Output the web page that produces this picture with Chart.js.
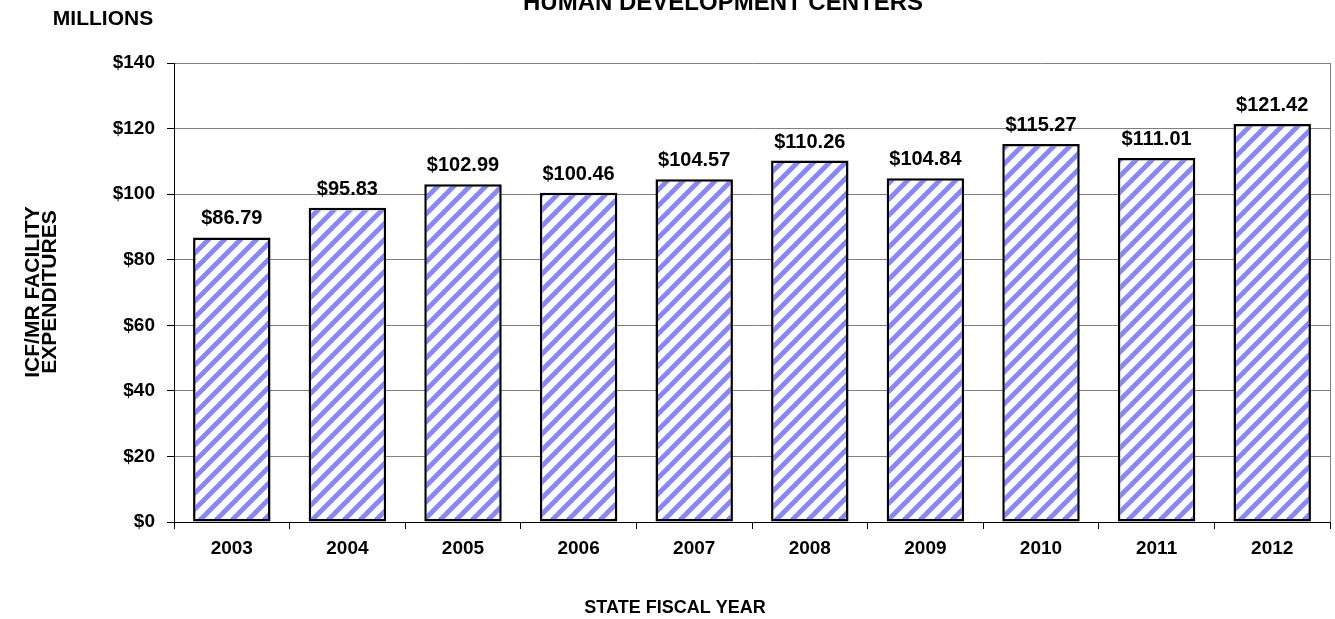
<!DOCTYPE html>
<html>
<head>
<meta charset="utf-8">
<title>ICF/MR Facility Expenditures</title>
<script src="https://cdn.jsdelivr.net/npm/chart.js@4.4.1/dist/chart.umd.min.js"></script>
<style>
  html, body { margin: 0; padding: 0; background: #fff; overflow: hidden; }
  canvas { display: block; }
</style>
</head>
<body>
<canvas id="chart" width="1335" height="619"></canvas>
<script>
// Fiscal years and spending, millions of dollars
const years = ["2003", "2004", "2005", "2006", "2007", "2008", "2009", "2010", "2011", "2012"];
const spending = [86.79, 95.83, 102.99, 100.46, 104.57, 110.26, 104.84, 115.27, 111.01, 121.42];
const yTicks = [0, 20, 40, 60, 80, 100, 120, 140];

const FONT = '"Liberation Sans", Arial, sans-serif';

// diagonal stripe fill for the bars
function makeStripes() {
  const size = 16;
  const c = document.createElement("canvas");
  c.width = size;
  c.height = size;
  const g = c.getContext("2d");
  g.fillStyle = "#fff";
  g.fillRect(0, 0, size, size);
  g.strokeStyle = "rgb(135,135,255)";
  g.lineWidth = 4.8;
  g.lineCap = "square";
  g.beginPath();
  g.moveTo(-2, size + 2); g.lineTo(size + 2, -2);
  g.moveTo(-2, 2); g.lineTo(2, -2);
  g.moveTo(size - 2, size + 2); g.lineTo(size + 2, size - 2);
  g.stroke();
  return g.createPattern(c, "repeat");
}

const extras = {
  id: "extras",
  afterDraw(chart) {
    const { ctx, chartArea } = chart;
    ctx.save();
    // right border of the plot box
    ctx.strokeStyle = "#808080";
    ctx.lineWidth = 1;
    ctx.beginPath();
    ctx.moveTo(chartArea.right + 0.5, chartArea.top);
    ctx.lineTo(chartArea.right + 0.5, chartArea.bottom);
    ctx.stroke();

    ctx.fillStyle = "#000";
    ctx.textAlign = "center";
    ctx.textBaseline = "alphabetic";

    // value labels above bars
    ctx.font = "bold 20px " + FONT;
    const meta = chart.getDatasetMeta(0);
    meta.data.forEach((bar, i) => {
      ctx.fillText("$" + spending[i].toFixed(2), bar.x, bar.y - 13);
    });

    ctx.font = "bold 24px " + FONT;
    ctx.fillText("HUMAN DEVELOPMENT CENTERS", 723, 10);

    ctx.font = "bold 21px " + FONT;
    ctx.fillText("MILLIONS", 103, 25);

    ctx.font = "bold 18px " + FONT;
    ctx.fillText("STATE FISCAL YEAR", 675, 613);

    ctx.font = "bold 21px " + FONT;
    ctx.translate(39, 292);
    ctx.rotate(-Math.PI / 2);
    ctx.fillText("ICF/MR FACILITY", 0, 0);
    ctx.fillText("EXPENDITURES", 0, 17);
    ctx.restore();
  }
};

new Chart(document.getElementById("chart"), {
  type: "bar",
  data: {
    labels: years,
    datasets: [{
      data: spending,
      backgroundColor: makeStripes(),
      borderColor: "#000",
      borderWidth: 2.5,
      borderSkipped: false,
      barPercentage: 0.67,
      categoryPercentage: 1
    }]
  },
  options: {
    responsive: false,
    animation: false,
    devicePixelRatio: 1,
    layout: { padding: { top: 63, right: 5, left: 0, bottom: 0 } },
    plugins: { legend: { display: false }, tooltip: { enabled: false } },
    scales: {
      x: {
        offset: true,
        grid: { drawOnChartArea: false, tickLength: 7, tickColor: "#000", offset: true },
        border: { color: "#000", width: 1 },
        ticks: { color: "#000", font: { family: FONT, size: 19, weight: "bold" }, padding: 8 },
        afterFit: s => { s.height = 97; }
      },
      y: {
        min: 0,
        max: 140,
        afterBuildTicks: s => { s.ticks = yTicks.map(v => ({ value: v })); },
        grid: { color: "#808080", tickLength: 7, tickColor: "#000" },
        border: { color: "#000", width: 1 },
        ticks: {
          color: "#000",
          padding: 12,
          font: { family: FONT, size: 19, weight: "bold" },
          callback: v => "$" + v
        },
        afterFit: s => { s.width = 174; }
      }
    }
  },
  plugins: [extras]
});
</script>
</body>
</html>
